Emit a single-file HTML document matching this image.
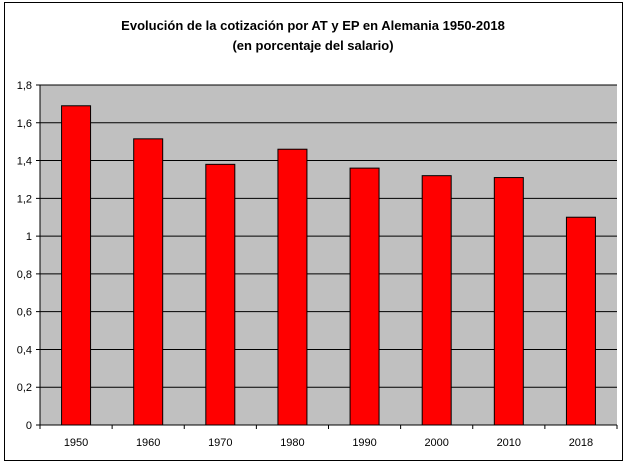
<!DOCTYPE html>
<html><head><meta charset="utf-8"><style>
body{margin:0;background:#fff;width:627px;height:464px;overflow:hidden}
text{font-family:"Liberation Sans",Arial,sans-serif}
</style></head><body>
<svg width="627" height="464">
<rect x="4.5" y="2.5" width="618" height="458" fill="#fff" stroke="#000" stroke-width="1"/>
<text x="313" y="30" text-anchor="middle" font-size="13" font-weight="bold">Evolución de la cotización por AT y EP en Alemania 1950-2018</text>
<text x="313" y="50" text-anchor="middle" font-size="13" font-weight="bold">(en porcentaje del salario)</text>
<g id="plot"></g>
</svg>
<script>
const categories=["1950","1960","1970","1980","1990","2000","2010","2018"];
const values=[1.69,1.515,1.38,1.46,1.36,1.32,1.31,1.10];
const yTicks=[0,0.2,0.4,0.6,0.8,1,1.2,1.4,1.6,1.8];
const yLabels=["0","0,2","0,4","0,6","0,8","1","1,2","1,4","1,6","1,8"];
const L=40,R=617,T=85,B=425,yMax=1.8;
const y=v=>B-(v/yMax)*(B-T);
const bw=(R-L)/categories.length;
const x=i=>L+i*bw;
const g=document.getElementById('plot');
const NS="http://www.w3.org/2000/svg";
function mk(t,a){const e=document.createElementNS(NS,t);for(const k in a)e.setAttribute(k,a[k]);g.appendChild(e);return e;}
let bg=mk('rect',{x:L,y:T,width:R-L,height:B-T,fill:'#c0c0c0'});


yTicks.forEach((v,i)=>{
 let ln=mk('line',{x1:L-4,x2:R,y1:y(v),y2:y(v),stroke:'#000','stroke-width':1});
 
 
 let t=mk('text',{x:L-8,y:y(v)+4,'text-anchor':'end','font-size':11});
 t.textContent=yLabels[i];
 
 
});
values.forEach((v,i)=>{
 const c=x(i)+bw/2;
 let b=mk('rect',{x:c-14.5,y:y(v),width:29,height:B-y(v),fill:'#ff0000',stroke:'#000','stroke-width':1});
 
 
 let t=mk('text',{x:c,y:B+21,'text-anchor':'middle','font-size':11});
 t.textContent=categories[i];
 
 
});
for(let i=0;i<=categories.length;i++){
 let tk=mk('line',{x1:x(i),x2:x(i),y1:B,y2:B+4,stroke:'#000'});
 
 
}
let ax=mk('line',{x1:L,x2:L,y1:T,y2:B,stroke:'#000'});


let bx=mk('line',{x1:L,x2:R,y1:B,y2:B,stroke:'#000'});


</script>
</body></html>
